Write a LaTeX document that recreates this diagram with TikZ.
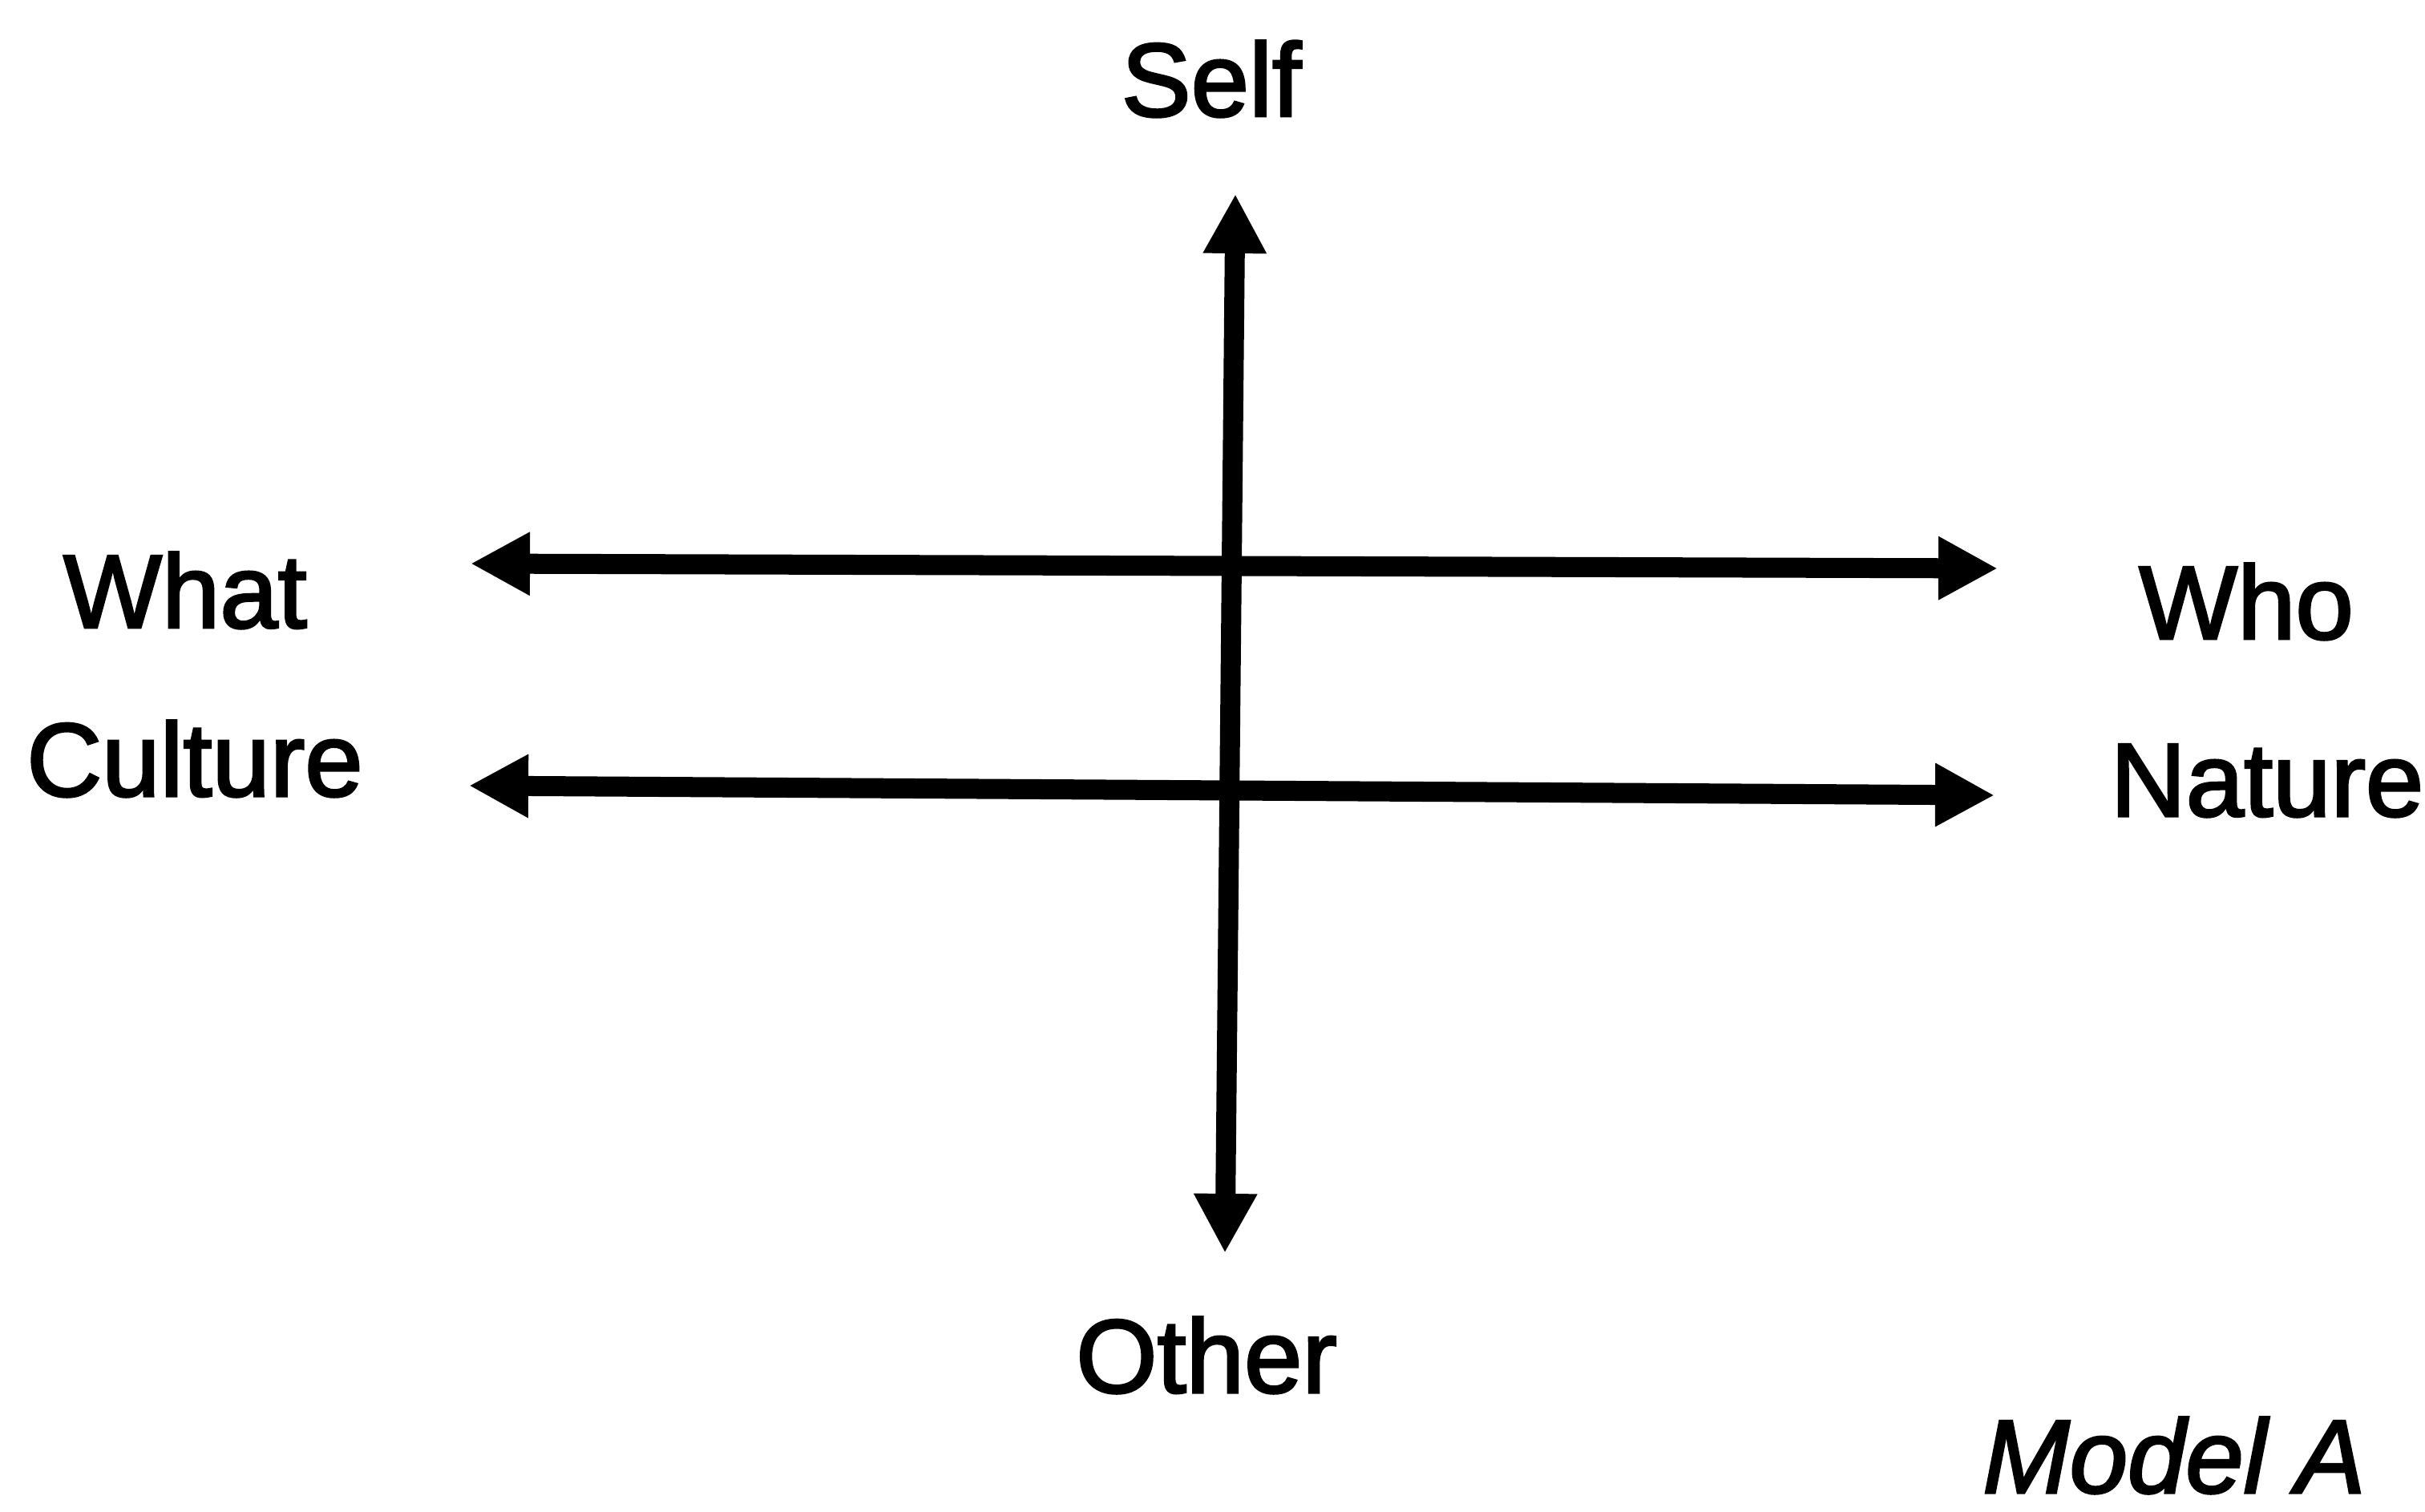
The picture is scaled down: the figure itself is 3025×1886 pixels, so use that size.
\documentclass[tikz,border=0pt]{standalone}
\usepackage{fontspec}
\setmainfont{Liberation Sans}
\newfontfamily\labfont{Liberation Sans}[FakeBold=2.3]
\usetikzlibrary{arrows.meta}
\begin{document}
\begin{tikzpicture}[x=0.01cm,y=-0.01cm,
  lab/.style={inner sep=0pt, anchor=base, font=\labfont\fontsize{37}{44}\selectfont},
  axis/.style={line width=0.25cm,
    {Triangle[length=0.74cm,width=0.74cm]}-{Triangle[length=0.74cm,width=0.74cm]}}]
\useasboundingbox (0,0) rectangle (3025,1886);
% labels
\node[lab] (self)    at (1511,145)  {Self};
\node[lab] (other)   at (1505,1737) {Other};
\node[lab] (what)    at (231,783)   {What};
\node[lab] (culture) at (243,993)   {Culture};
\node[lab] (who)     at (2802,797)  {Who};
\node[lab] (nature)  at (2828,1018) {Nature};
\node[lab, font=\labfont\itshape\fontsize{37}{44}\selectfont] (model) at (2712,1862) {Model A};
% arrow ends
\coordinate (vtop) at (1541,242);
\coordinate (vbot) at (1528,1563);
\coordinate (uleft) at (587,703);
\coordinate (uright) at (2492,709);
\coordinate (lleft) at (585,980);
\coordinate (lright) at (2488,992);
% axes
\draw[axis] (vbot) -- (vtop);
\draw[axis] (uleft) -- (uright);
\draw[axis] (lleft) -- (lright);
\end{tikzpicture}
\end{document}
